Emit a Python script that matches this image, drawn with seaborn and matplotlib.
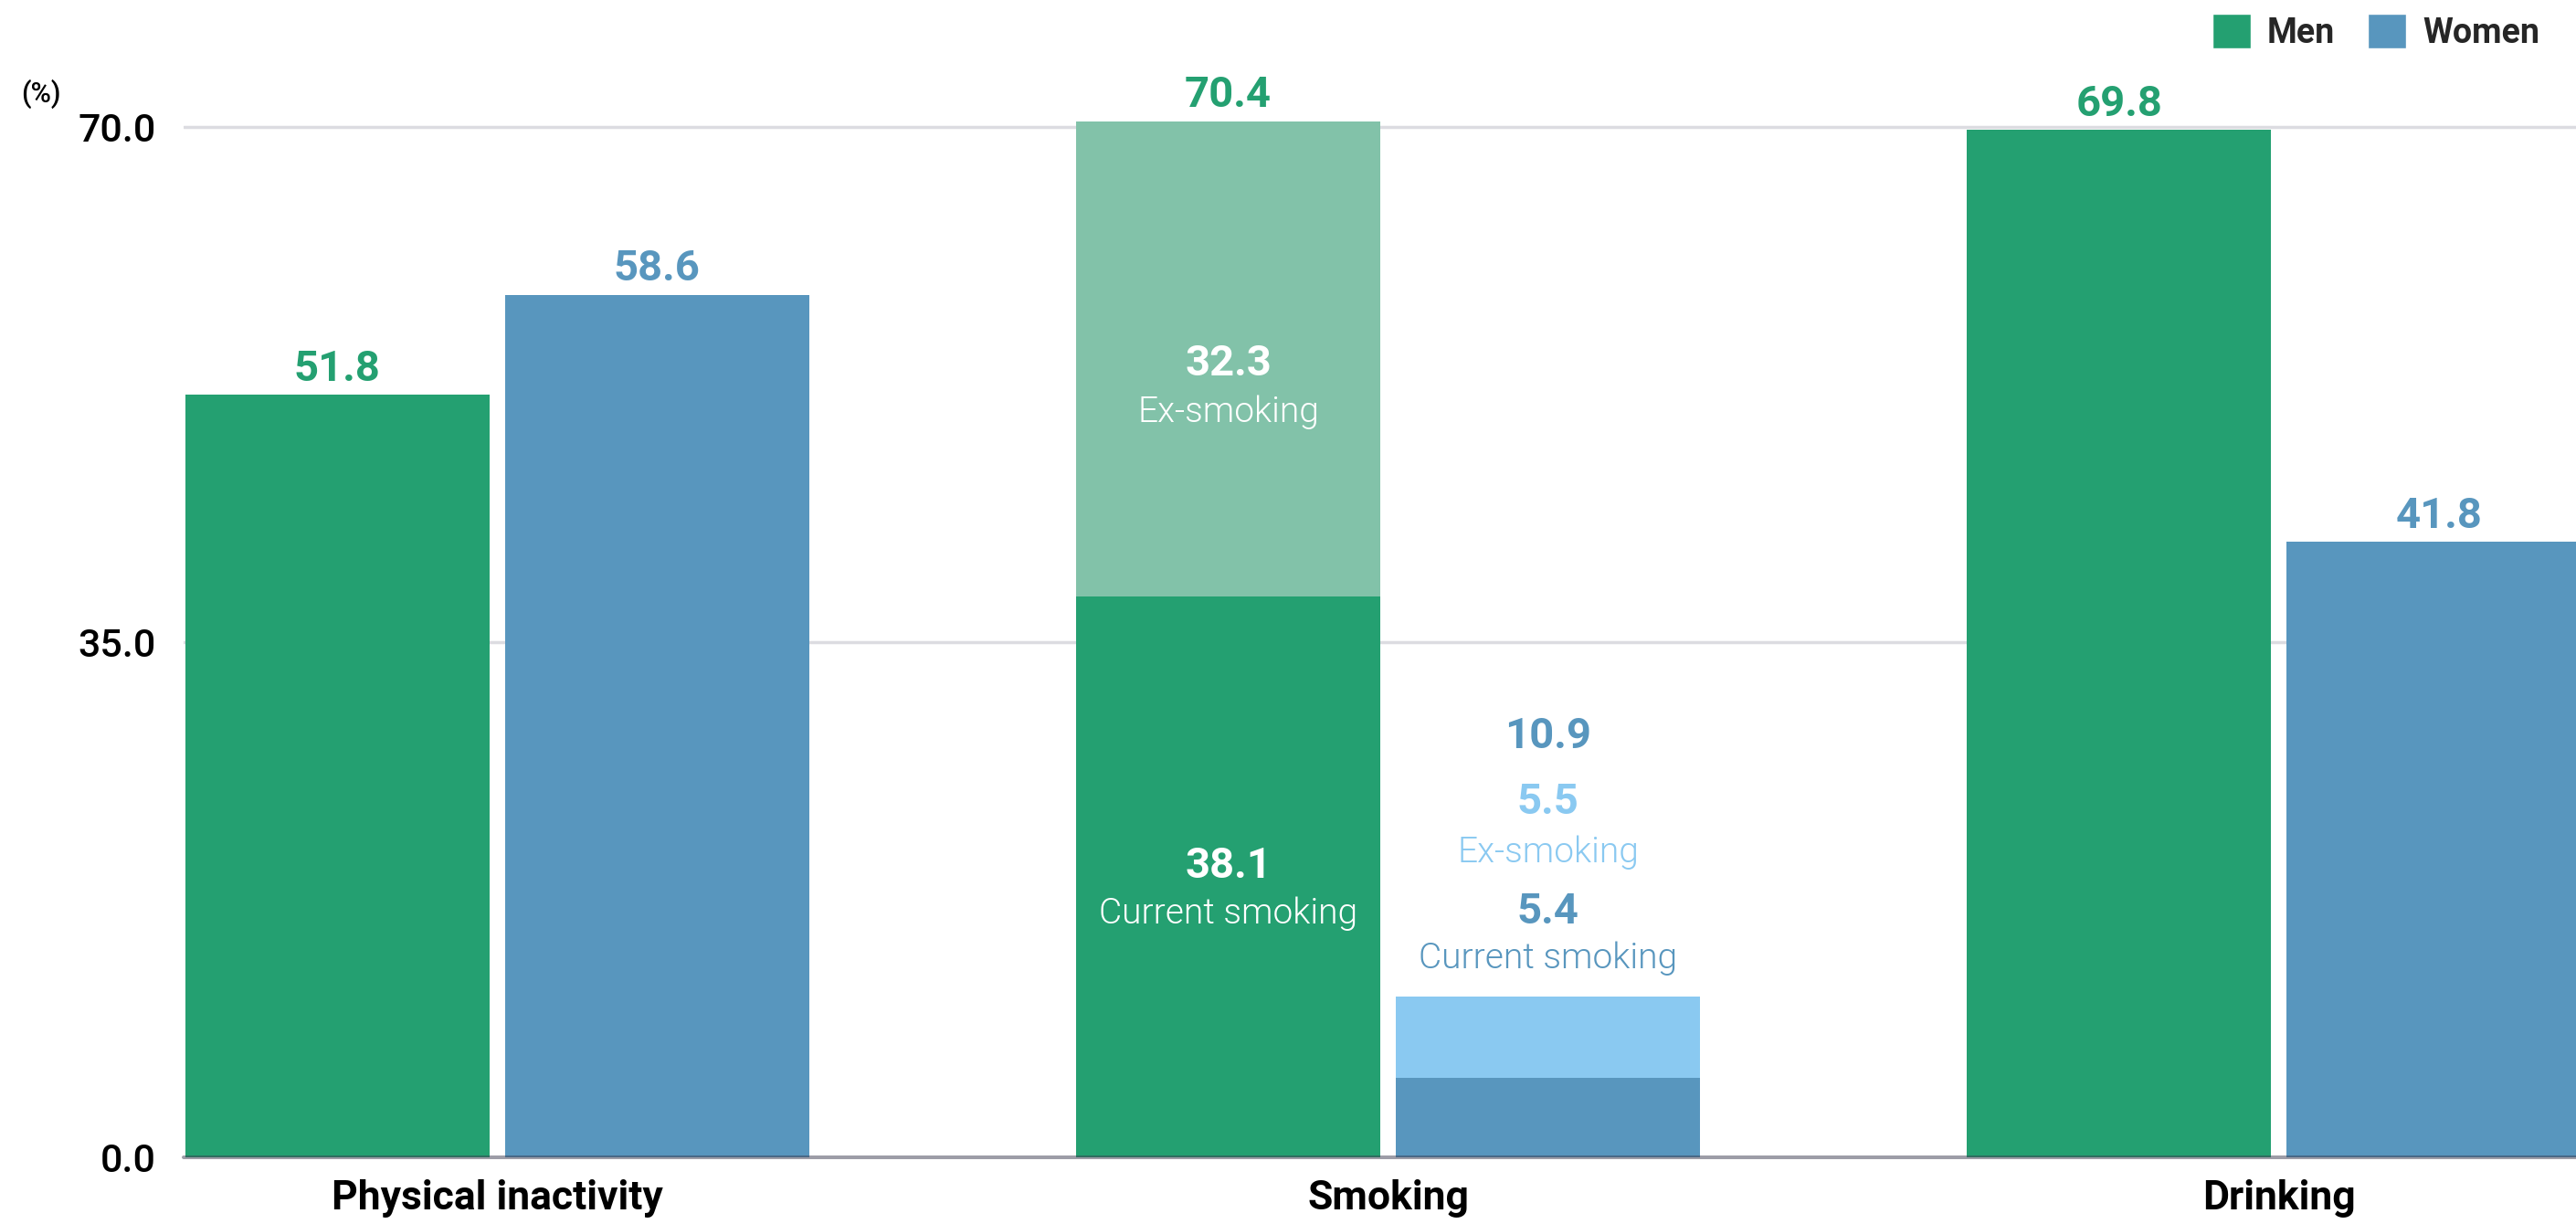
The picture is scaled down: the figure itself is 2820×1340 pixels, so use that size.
import matplotlib
matplotlib.use("Agg")
import matplotlib.pyplot as plt
from matplotlib.patches import Patch
import pandas as pd
import seaborn as sns

# ---- data -------------------------------------------------------------
categories = ["Physical inactivity", "Smoking", "Drinking"]
groups = ["Men", "Women"]
men_total = [51.8, 70.4, 69.8]
women_total = [58.6, 10.9, 41.8]
# smoking is split into current smoking (lower part) and ex-smoking (upper part)
men_smoking_current = 38.1
men_smoking_ex = 32.3
women_smoking_current = 5.4
women_smoking_ex = 5.5
y_ticks = [0.0, 35.0, 70.0]

# ---- style ------------------------------------------------------------
GREEN = "#24a071"
GREEN_LIGHT = "#82c2a9"
BLUE = "#5896be"
BLUE_LIGHT = "#8ac9f1"

sns.set_style("white")
plt.rcParams["font.family"] = ["Roboto", "DejaVu Sans"]

# lower layer: the full value, except smoking where only current smoking
men_base = [men_total[0], men_smoking_current, men_total[2]]
women_base = [women_total[0], women_smoking_current, women_total[2]]

total_df = pd.DataFrame({
    "category": categories * 2,
    "sex": ["Men"] * 3 + ["Women"] * 3,
    "value": men_total + women_total,
})
base_df = pd.DataFrame({
    "category": categories * 2,
    "sex": ["Men"] * 3 + ["Women"] * 3,
    "value": men_base + women_base,
})

fig = plt.figure(figsize=(28.2, 13.4), dpi=100)
ax = fig.add_axes([0.0713, 0.05448, 0.9287, 0.9019])

bar_kw = dict(x="category", y="value", hue="sex", order=categories,
              hue_order=groups, width=0.718, gap=0.0486, errorbar=None,
              saturation=1, legend=False, linewidth=0, ax=ax, zorder=2)
sns.barplot(data=total_df, palette={"Men": GREEN_LIGHT, "Women": BLUE_LIGHT}, **bar_kw)
sns.barplot(data=base_df, palette={"Men": GREEN, "Women": BLUE}, **bar_kw)

ax.set_xlim(-0.352, 2.3335)
ax.set_ylim(0, 75)

# grid and baseline
for yv in y_ticks[1:]:
    ax.axhline(yv, color="#dcdce1", lw=2.5, zorder=1)
ax.axhline(0, color="#3c3c50", alpha=0.5, lw=2.9, zorder=4, clip_on=False)

sns.despine(ax=ax, left=True, bottom=True)
ax.set_xlabel("")
ax.set_ylabel("")
ax.set_yticks(y_ticks)
ax.set_yticklabels([f"{v:.1f}" for v in y_ticks])
ax.tick_params(axis="y", length=0, pad=21.6, labelsize=31, labelcolor="black")
ax.tick_params(axis="x", length=0, pad=17.5, labelsize=32, labelcolor="black")
for lbl in ax.get_yticklabels():
    lbl.set_fontweight(500)
for lbl in ax.get_xticklabels():
    lbl.set_fontweight("bold")

fig.text(45 / 2820, 1 - 102.5 / 1340, "(%)", ha="center", va="center",
         fontsize=22, fontweight=500, color="black")

# ---- value labels -----------------------------------------------------
men_bars = ax.containers[0].patches
women_bars = ax.containers[1].patches


def center_x(patch):
    return patch.get_x() + patch.get_width() / 2


def label(x, y, text, color, dy, size=34, weight="bold"):
    ax.annotate(text, xy=(x, y), xytext=(0, dy), textcoords="offset points",
                ha="center", va="center", color=color, fontsize=size,
                fontweight=weight, zorder=6)


for i, cat in enumerate(categories):
    label(center_x(men_bars[i]), men_total[i], f"{men_total[i]:.1f}", GREEN, 20.5)
    if cat != "Smoking":
        label(center_x(women_bars[i]), women_total[i], f"{women_total[i]:.1f}", BLUE, 20.5)

# men smoking: labels inside the stacked segments
mx = center_x(men_bars[1])
ex_mid = men_smoking_current + men_smoking_ex / 2
cur_mid = men_smoking_current / 2
label(mx, ex_mid, f"{men_smoking_ex:.1f}", "white", -4)
label(mx, ex_mid, "Ex-smoking", "white", -42, size=28, weight=300)
label(mx, cur_mid, f"{men_smoking_current:.1f}", "white", 9)
label(mx, cur_mid, "Current smoking", "white", -29, size=28, weight=300)

# women smoking: labels stacked above the short bar
wx = center_x(women_bars[1])
w_top = women_smoking_current + women_smoking_ex
label(wx, w_top, "Current smoking", BLUE, 30.5, size=28, weight=300)
label(wx, w_top, f"{women_smoking_current:.1f}", BLUE, 67.5)
label(wx, w_top, "Ex-smoking", BLUE_LIGHT, 113.5, size=28, weight=300)
label(wx, w_top, f"{women_smoking_ex:.1f}", BLUE_LIGHT, 153.5)
label(wx, w_top, f"{women_total[1]:.1f}", BLUE, 205.5)

# ---- legend -----------------------------------------------------------
handles = [Patch(facecolor=GREEN, label="Men"), Patch(facecolor=BLUE, label="Women")]
fig.legend(handles=handles, loc="center right", bbox_to_anchor=(0.9858, 0.974),
           ncol=2, frameon=False, prop=dict(size=27, weight="bold"),
           handlelength=1.12, handleheight=1.17, handletextpad=0.48,
           columnspacing=0.95, borderpad=0, borderaxespad=0)

fig.savefig("out.png", dpi=100)
